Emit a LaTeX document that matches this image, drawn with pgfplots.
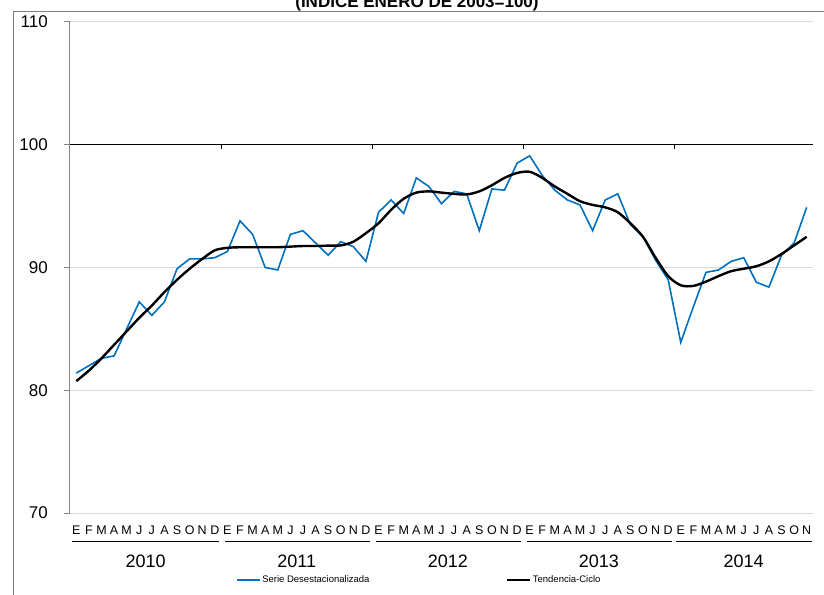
\documentclass[border=0pt]{standalone}
\usepackage{pgfplots}
\usepackage{pgfplotstable}
\pgfplotsset{compat=1.18}
\usepackage{fontspec}
\setmainfont{Liberation Sans}
\definecolor{serie}{HTML}{0070C0}
\definecolor{gridc}{HTML}{D9D9D9}
\definecolor{axisc}{HTML}{868686}

\pgfplotstableread{
i s t
0 81.4 80.75
1 82.0 81.6
2 82.6 82.6
3 82.8 83.7
4 85.0 84.8
5 87.2 85.9
6 86.1 86.9
7 87.2 88.0
8 89.9 89.0
9 90.7 89.9
10 90.7 90.7
11 90.8 91.4
12 91.3 91.6
13 93.8 91.65
14 92.7 91.65
15 90.0 91.65
16 89.8 91.65
17 92.7 91.7
18 93.0 91.75
19 92.0 91.75
20 91.0 91.78
21 92.1 91.8
22 91.7 92.1
23 90.5 92.8
24 94.5 93.6
25 95.5 94.7
26 94.4 95.6
27 97.3 96.1
28 96.6 96.2
29 95.2 96.1
30 96.2 96.0
31 96.0 95.95
32 93.0 96.2
33 96.4 96.7
34 96.3 97.3
35 98.5 97.7
36 99.1 97.8
37 97.5 97.3
38 96.3 96.6
39 95.5 96.0
40 95.1 95.4
41 93.0 95.1
42 95.5 94.9
43 96.0 94.5
44 93.5 93.6
45 92.5 92.5
46 90.6 90.8
47 89.0 89.3
48 83.9 88.55
49 86.8 88.5
50 89.6 88.85
51 89.8 89.3
52 90.5 89.7
53 90.8 89.9
54 88.8 90.1
55 88.4 90.5
56 91.0 91.1
57 92.0 91.8
58 94.9 92.5
}\datatable

\begin{document}
\begin{tikzpicture}
\begin{axis}[
  at={(0,0)}, anchor=south west,
  scale only axis, width=743pt, height=491pt,
  xmin=-0.5, xmax=58.5, ymin=70, ymax=110,
  ytick={70,80,90,100,110},
  xtick={0,...,58},
  xticklabels={E,F,M,A,M,J,J,A,S,O,N,D,E,F,M,A,M,J,J,A,S,O,N,D,E,F,M,A,M,J,J,A,S,O,N,D,E,F,M,A,M,J,J,A,S,O,N,D,E,F,M,A,M,J,J,A,S,O,N},
  axis x line*=bottom, axis y line*=left,
  x axis line style={draw=none},
  y axis line style={draw=axisc, line width=1pt},
  xtick style={draw=none},
  ytick style={draw=axisc, line width=1pt},
  tick align=outside, major tick length=6pt,
  ymajorgrids, grid style={gridc, line width=1pt},
  xticklabel style={font=\fontsize{12.5}{14}\selectfont, anchor=base, yshift=-15pt, inner sep=0pt},
  yticklabel style={font=\fontsize{17}{20}\selectfont, anchor=east, inner sep=0pt, xshift=-16pt},
  /pgf/number format/assume math mode=true,
  clip=false,
  legend columns=2,
  legend style={at={(0.2234,-0.1365)}, anchor=west, draw=none, fill=none,
    inner xsep=0pt, inner ysep=0pt,
    font=\fontsize{9.5}{11}\selectfont,
    nodes={inner sep=1.5pt},
    /tikz/every even column/.append style={column sep=135pt}},
  legend image code/.code={\draw[#1] (0pt,0pt) -- (23pt,0pt);},
]
\addplot[serie, line width=1.6pt] table[x=i, y=s]{\datatable};
\addlegendentry{Serie Desestacionalizada}
\addplot[black, line width=2.4pt, smooth, tension=0.5] table[x=i, y=t]{\datatable};
\addlegendentry{Tendencia-Ciclo}

\draw[black, line width=1.3pt] (axis cs:-0.5,100) -- (axis cs:58.5,100);
\pgfplotsinvokeforeach{11.5,23.5,35.5,47.5}{
  \draw[black, line width=1pt] (axis cs:#1,100) -- ([yshift=-4pt]axis cs:#1,100);
}
% year separators
\draw[black, line width=1pt] ([yshift=-28.7pt]axis cs:-0.35,70) -- ([yshift=-28.7pt]axis cs:11.3,70);
\draw[black, line width=1pt] ([yshift=-28.7pt]axis cs:11.8,70) -- ([yshift=-28.7pt]axis cs:23.3,70);
\draw[black, line width=1pt] ([yshift=-28.7pt]axis cs:23.8,70) -- ([yshift=-28.7pt]axis cs:35.3,70);
\draw[black, line width=1pt] ([yshift=-28.7pt]axis cs:35.8,70) -- ([yshift=-28.7pt]axis cs:47.3,70);
\draw[black, line width=1pt] ([yshift=-28.7pt]axis cs:47.6,70) -- ([yshift=-28.7pt]axis cs:58.4,70);
\node[font=\fontsize{18}{20}\selectfont, anchor=base] at ([yshift=-54pt]axis cs:5.5,70) {2010};
\node[font=\fontsize{18}{20}\selectfont, anchor=base] at ([yshift=-54pt]axis cs:17.5,70) {2011};
\node[font=\fontsize{18}{20}\selectfont, anchor=base] at ([yshift=-54pt]axis cs:29.5,70) {2012};
\node[font=\fontsize{18}{20}\selectfont, anchor=base] at ([yshift=-54pt]axis cs:41.5,70) {2013};
\node[font=\fontsize{18}{20}\selectfont, anchor=base] at ([yshift=-54pt]axis cs:53,70) {2014};
\end{axis}
\draw[gray, line width=0.9pt] (-57pt,-200pt) -- (-57pt,502pt) -- (900pt,502pt);
\node[font=\bfseries\fontsize{17}{20}\selectfont, anchor=base] at (347pt,505pt) {(ÍNDICE ENERO DE 2003=100)};
\pgfresetboundingbox
\useasboundingbox (-70pt,-81pt) rectangle (754pt,513pt);
\end{tikzpicture}
\end{document}
